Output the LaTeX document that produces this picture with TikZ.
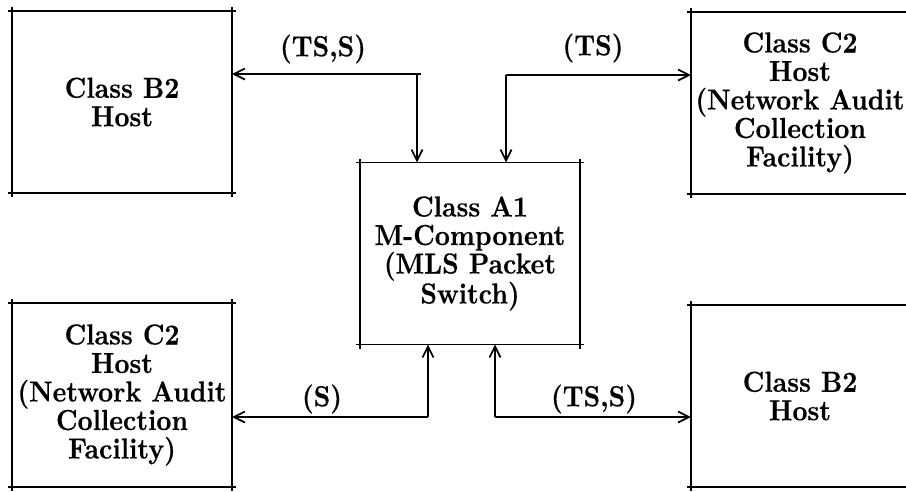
\documentclass[tikz,border=0pt]{standalone}
\usepackage{fontspec}
\newfontfamily\diagfont{lmroman10-bold.otf}[FakeStretch=0.9, FakeBold=0.3]
\usetikzlibrary{arrows.meta}
\begin{document}
\begin{tikzpicture}[x=1pt,y=-1pt,
  box/.style={inner sep=0pt, outer sep=0pt, align=center,
    font=\fontsize{29}{28.5}\selectfont\diagfont},
  edge/.style={line width=1.8pt, shorten <=-4pt, shorten >=-4pt},
  conn/.style={line width=1.7pt, -{Straight Barb[length=11pt,width=11pt,line width=1.7pt]}},
  lbl/.style={font=\fontsize{29}{28.5}\selectfont\diagfont, inner sep=0pt}]
\useasboundingbox (0,0) rectangle (906,491);
% boxes
\node[box, minimum width=220pt, minimum height=182pt] (tl) at (122,102) {Class B2\\Host};
\node[box, minimum width=218pt, minimum height=182pt] (tr) at (800,103) {Class C2\\Host\\(Network Audit\\Collection\\Facility)};
\node[box, minimum width=220pt, minimum height=182pt] (cen) at (470,253.5) {Class A1\\M-Component\\(MLS Packet\\Switch)};
\node[box, minimum width=220pt, minimum height=184pt] (bl) at (122,395) {Class C2\\Host\\(Network Audit\\Collection\\Facility)};
\node[box, minimum width=218pt, minimum height=182pt] (br) at (800,396) {Class B2\\Host};
\foreach \n in {tl,tr,cen,bl,br}{
  \draw[edge] (\n.north west) -- (\n.north east);
  \draw[edge] (\n.south west) -- (\n.south east);
  \draw[edge] (\n.north west) -- (\n.south west);
  \draw[edge] (\n.north east) -- (\n.south east);
}
% junctions
\coordinate (j1) at (417,74);
\coordinate (j2) at (506,75);
\coordinate (j3) at (428,417);
\coordinate (j4) at (495,417);
% connectors
\draw[conn, shorten <=-4pt] (j1) -- (j1 -| tl.east);
\draw[conn] (j1) -- (j1 |- cen.north);
\draw[conn] (j2) -- (j2 -| tr.west);
\draw[conn] (j2) -- (j2 |- cen.north);
\draw[conn] (j3) -- (j3 -| bl.east);
\draw[conn] (j3) -- (j3 |- cen.south);
\draw[conn] (j4) -- (j4 -| br.west);
\draw[conn] (j4) -- (j4 |- cen.south);
% labels
\node[lbl] (l1) at (323,49) {(TS,S)};
\node[lbl] (l2) at (593,48) {(TS)};
\node[lbl] (l3) at (322,399) {(S)};
\node[lbl] (l4) at (594,399) {(TS,S)};
\end{tikzpicture}
\end{document}
